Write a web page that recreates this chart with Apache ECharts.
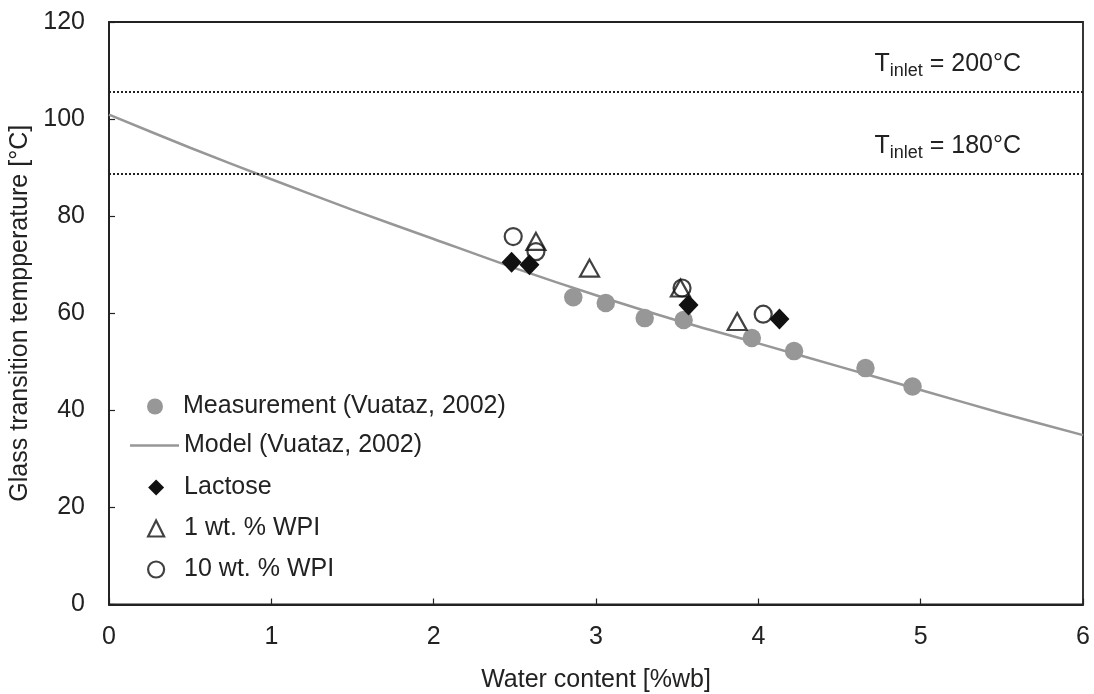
<!DOCTYPE html>
<html>
<head>
<meta charset="utf-8">
<script src="https://cdn.jsdelivr.net/npm/echarts@6/dist/echarts.min.js"></script>
<style>
  html, body { margin: 0; padding: 0; background: #fff; }
  #chart { width: 1094px; height: 694px; }
</style>
</head>
<body>
<div id="chart"></div>
<script>
// Glass transition temperature vs water content: measured points and model (Vuataz, 2002)
const measurement = [
  [2.86, 63.3], [3.06, 62.1], [3.30, 59.0], [3.54, 58.6],
  [3.96, 54.9], [4.22, 52.2], [4.66, 48.7], [4.95, 44.9]
];
const modelCurve = [
  [0, 100.9], [0.5, 94.1], [1, 87.6], [1.5, 81.3], [2, 75.3], [2.5, 69.3],
  [3, 63.7], [3.5, 58.5], [4, 53.8], [4.5, 49.0], [5, 44.2], [5.5, 39.4], [6, 34.9]
];
const lactose = [[2.48, 70.5], [2.59, 70.0], [3.57, 61.7], [4.13, 58.8]];
const wpi1 = [[2.63, 74.8], [2.96, 69.3], [3.52, 65.2], [3.87, 58.3]];
const wpi10 = [[2.49, 75.8], [2.63, 72.7], [3.53, 65.2], [4.03, 59.8]];

// Outlet-limit levels for two inlet temperatures
const inletTemps = ['200°C', '180°C'];
const inletLevels = [105.6, 88.7];

const seriesNames = [
  'Measurement (Vuataz, 2002)',
  'Model (Vuataz, 2002)',
  'Lactose',
  '1 wt. % WPI',
  '10 wt. % WPI'
];

const FONT = '"Liberation Sans", Arial, sans-serif';
const INK = '#222';
const GREY = '#979797';

const chart = echarts.init(document.getElementById('chart'), null, { renderer: 'canvas' });

const openStyle = { color: 'rgba(255,255,255,0)', borderColor: '#111', borderWidth: 2.2 };
const legendText = (padLeft) => ({
  fontFamily: FONT, fontSize: 25, color: INK, padding: [0, 0, 0, padLeft]
});

const option = {
  animation: false,
  backgroundColor: '#fff',
  textStyle: { fontFamily: FONT },
  grid: {
    left: 109, right: 11, top: 22, bottom: 89.5,
    show: true, borderColor: INK, borderWidth: 1.8,
    outerBoundsMode: 'none', containLabel: false
  },
  xAxis: {
    type: 'value', min: 0, max: 6, interval: 1,
    name: 'Water content [%wb]', nameLocation: 'middle', nameGap: 63,
    nameTextStyle: { fontFamily: FONT, fontSize: 25, color: INK },
    axisLine: { lineStyle: { color: INK, width: 1.8 } },
    axisTick: { inside: true, length: 6, lineStyle: { color: INK, width: 1.2 } },
    axisLabel: { fontFamily: FONT, fontSize: 25, color: INK, margin: 20 },
    splitLine: { show: false }
  },
  yAxis: {
    type: 'value', min: 0, max: 120, interval: 20,
    name: 'Glass transition tempperature [°C]', nameLocation: 'middle', nameGap: 66,
    nameTextStyle: { fontFamily: FONT, fontSize: 25, color: INK },
    axisLine: { lineStyle: { color: INK, width: 1.8 } },
    axisTick: { inside: true, length: 6, lineStyle: { color: INK, width: 1.2 } },
    axisLabel: { fontFamily: FONT, fontSize: 25, color: INK, margin: 24 },
    splitLine: { show: false }
  },
  legend: [
    {
      orient: 'vertical', left: 142, top: 389,
      itemWidth: 16, itemHeight: 16,
      textStyle: legendText(15),
      data: [{ name: seriesNames[0], icon: 'circle' }]
    },
    {
      orient: 'vertical', left: 125, top: 428,
      itemWidth: 49, itemHeight: 2.5,
      textStyle: legendText(0),
      data: [{ name: seriesNames[1], icon: 'rect', itemStyle: { color: GREY } }]
    },
    {
      orient: 'vertical', left: 142, top: 470,
      itemWidth: 16, itemHeight: 16, itemGap: 16,
      textStyle: legendText(15),
      data: [
        { name: seriesNames[2], icon: 'diamond' },
        { name: seriesNames[3], icon: 'triangle', itemStyle: openStyle },
        { name: seriesNames[4], icon: 'circle', itemStyle: openStyle }
      ]
    }
  ],
  series: [
    {
      name: seriesNames[1], type: 'line', data: modelCurve,
      symbol: 'none', smooth: 0.3,
      lineStyle: { color: GREY, width: 2.5 },
      itemStyle: { color: GREY },
      z: 1,
      markLine: {
        silent: true, symbol: 'none',
        lineStyle: { color: INK, type: [2, 2], width: 1.8 },
        label: {
          position: 'insideEndTop', distance: [62, 12],
          formatter: p => '{t|T}{s|inlet}{t| = ' + inletTemps[p.dataIndex] + '}',
          rich: {
            t: { fontFamily: FONT, fontSize: 25, color: INK },
            s: { fontFamily: FONT, fontSize: 18, color: INK, padding: [14, 0, 0, 0] }
          }
        },
        data: inletLevels.map(v => ({ yAxis: v }))
      }
    },
    {
      name: seriesNames[0], type: 'scatter', data: measurement,
      symbol: 'circle', symbolSize: 18.5,
      itemStyle: { color: GREY, opacity: 1 }, z: 2
    },
    {
      name: seriesNames[2], type: 'scatter', data: lactose,
      symbol: 'diamond', symbolSize: [20, 21],
      itemStyle: { color: '#111', opacity: 1 }, z: 3
    },
    {
      name: seriesNames[3], type: 'scatter', data: wpi1,
      symbol: 'triangle', symbolSize: [19, 17],
      itemStyle: openStyle, z: 4
    },
    {
      name: seriesNames[4], type: 'scatter', data: wpi10,
      symbol: 'circle', symbolSize: 17,
      itemStyle: openStyle, z: 5
    }
  ]
};

chart.setOption(option);
</script>
</body>
</html>
